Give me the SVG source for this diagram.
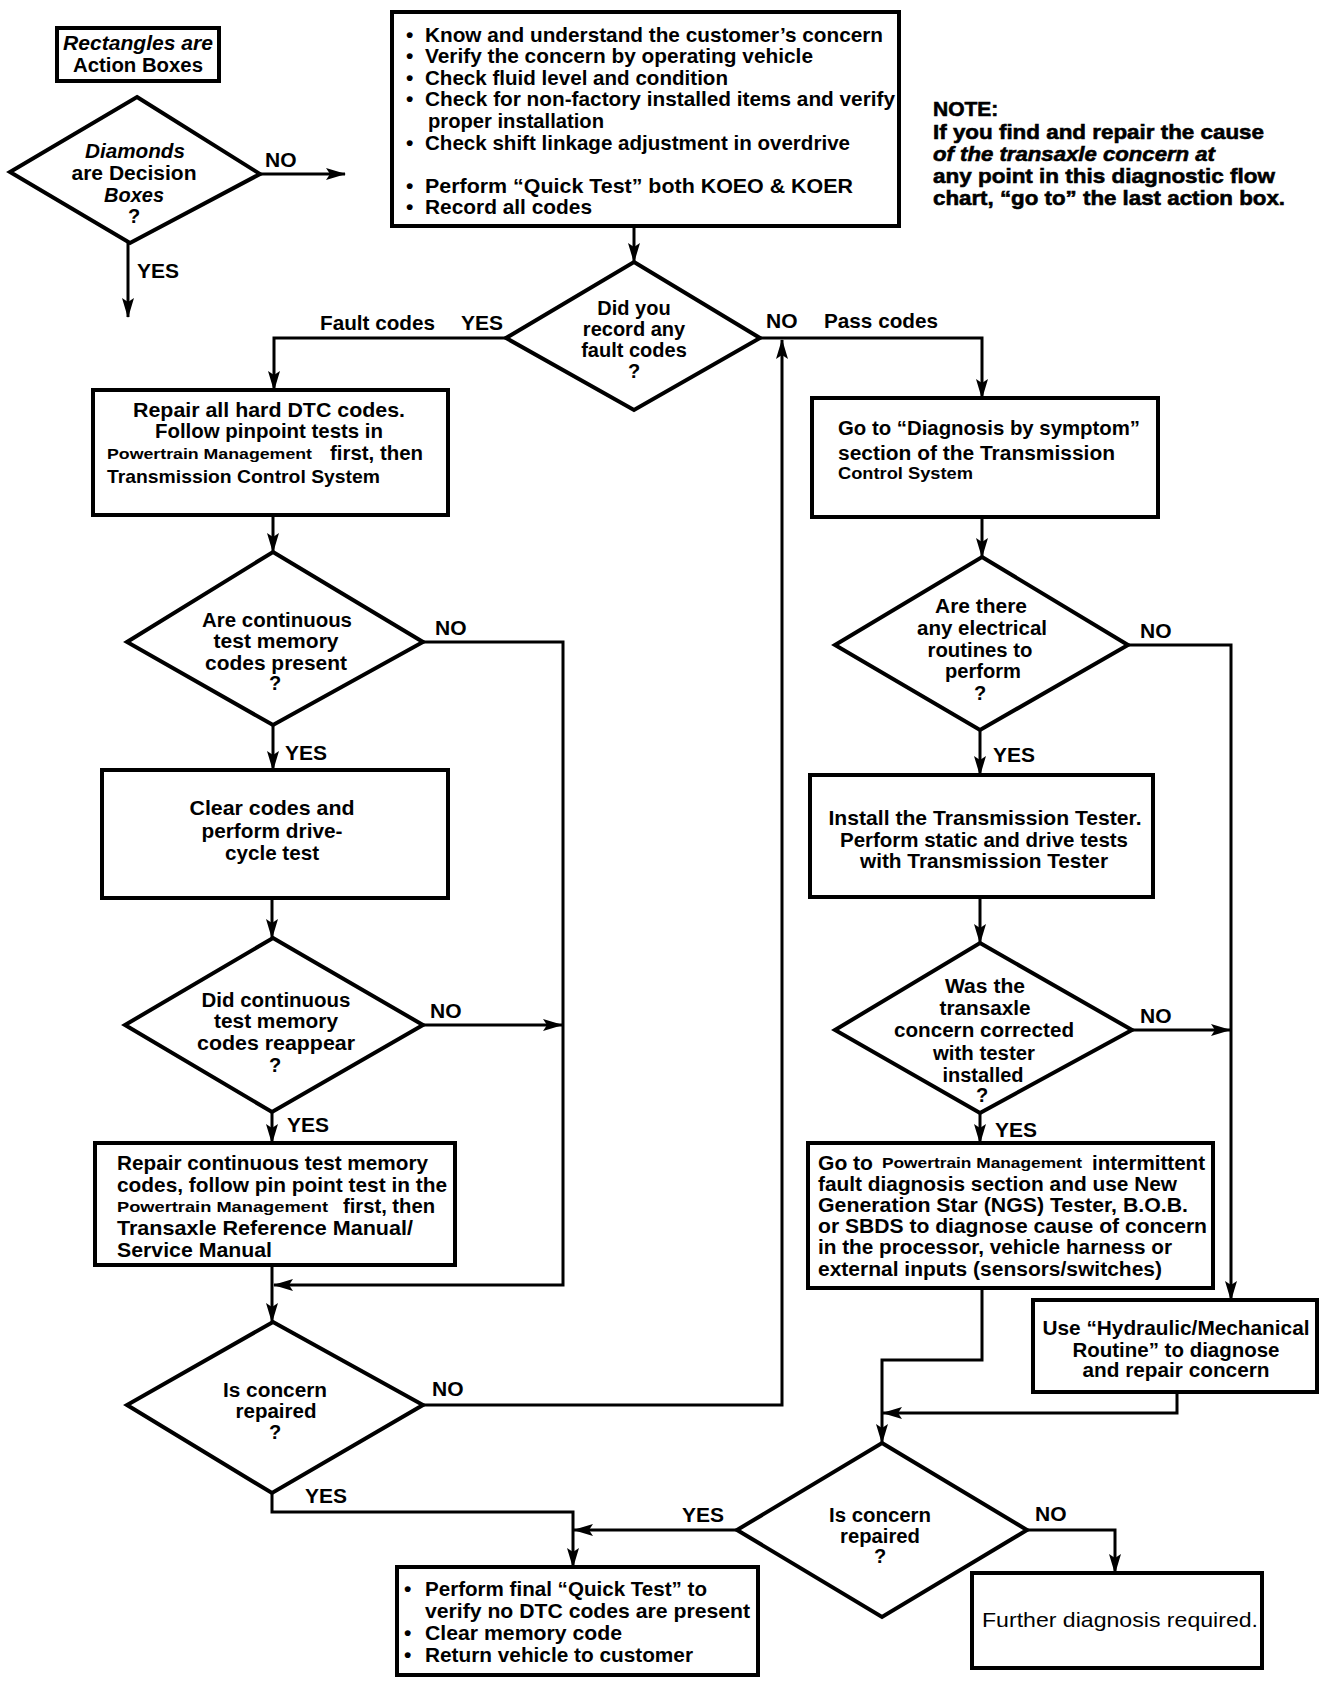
<svg xmlns="http://www.w3.org/2000/svg" width="1344" height="1686" viewBox="0 0 1344 1686">
<style>
.box{fill:#fff;stroke:#000;stroke-width:4}
.dia{fill:#fff;stroke:#000;stroke-width:4;stroke-linejoin:miter}
.conn{fill:none;stroke:#000;stroke-width:3}
.arr{fill:none;stroke:#000;stroke-width:3;marker-end:url(#ah)}
text{font-family:"Liberation Sans",Arial,Helvetica,sans-serif;font-weight:bold;font-size:21px;fill:#000}
.c{text-anchor:middle}
.d{font-size:20px}
.sm{font-size:15px}
.lb{font-size:21px}
.note{font-size:21px;stroke:#000;stroke-width:0.6}
.it{font-style:italic}
.rg{font-weight:normal}
</style>
<defs>
<marker id="ah" markerUnits="userSpaceOnUse" markerWidth="20" markerHeight="12" viewBox="0 0 20 12" refX="19" refY="6" orient="auto">
<path d="M0,0 L20,6 L0,12 L4,6 z" fill="#000"/>
</marker>
</defs>
<rect width="1344" height="1686" fill="#fff"/>

<g id="connectors">
<path class="arr" d="M260,174 H345"/>
<path class="arr" d="M128,243 V317"/>
<path class="arr" d="M634,226 V262"/>
<path class="arr" d="M506,338 H274 V390"/>
<path class="arr" d="M760,338 H982 V398"/>
<path class="arr" d="M273,515 V552"/>
<path class="arr" d="M273,725 V770"/>
<path class="arr" d="M423,642 H563 V1285 H274"/>
<path class="arr" d="M272,898 V938"/>
<path class="arr" d="M423,1025 H562"/>
<path class="arr" d="M272,1112 V1143"/>
<path class="arr" d="M272,1265 V1322"/>
<path class="arr" d="M423,1405 H782 V340"/>
<path class="arr" d="M272,1493 V1512 H573 V1567"/>
<path class="arr" d="M737,1530 H574"/>
<path class="arr" d="M1027,1530 H1115 V1573"/>
<path class="arr" d="M982,517 V557"/>
<path class="arr" d="M980,730 V775"/>
<path class="arr" d="M1128,645 H1231 V1300"/>
<path class="arr" d="M980,897 V943"/>
<path class="arr" d="M1132,1030 H1230"/>
<path class="arr" d="M980,1113 V1143"/>
<path class="arr" d="M982,1288 V1360 H882 V1443"/>
<path class="arr" d="M1177,1392 V1413 H883"/>
</g>

<g id="labels">
<text x="265" y="167" class="lb">NO</text>
<text x="137" y="278" class="lb">YES</text>
<text x="320" y="330" class="lb" textLength="115" lengthAdjust="spacingAndGlyphs">Fault codes</text>
<text x="461" y="330" class="lb">YES</text>
<text x="766" y="328" class="lb">NO</text>
<text x="824" y="328" class="lb" textLength="114" lengthAdjust="spacingAndGlyphs">Pass codes</text>
<text x="435" y="635" class="lb">NO</text>
<text x="285" y="760" class="lb">YES</text>
<text x="430" y="1018" class="lb">NO</text>
<text x="287" y="1132" class="lb">YES</text>
<text x="432" y="1396" class="lb">NO</text>
<text x="305" y="1503" class="lb">YES</text>
<text x="682" y="1522" class="lb">YES</text>
<text x="1035" y="1521" class="lb">NO</text>
<text x="1140" y="638" class="lb">NO</text>
<text x="993" y="762" class="lb">YES</text>
<text x="1140" y="1023" class="lb">NO</text>
<text x="995" y="1137" class="lb">YES</text>
</g>

<g id="legend-rect">
<rect class="box" x="57" y="28" width="162" height="53"/>
<text x="138" y="50" class="c d it" textLength="150" lengthAdjust="spacingAndGlyphs">Rectangles are</text>
<text x="138" y="72" class="c d" textLength="130" lengthAdjust="spacingAndGlyphs">Action Boxes</text>
</g>

<g id="legend-diamond">
<polygon class="dia" points="137,97 260,174 130,243 10,172"/>
<text x="135" y="158" class="c d it" textLength="100" lengthAdjust="spacingAndGlyphs">Diamonds</text>
<text x="134" y="180" class="c d" textLength="125" lengthAdjust="spacingAndGlyphs">are Decision</text>
<text x="134" y="202" class="c d it">Boxes</text>
<text x="134" y="223" class="c d">?</text>
</g>

<g id="start-box">
<rect class="box" x="392" y="12" width="507" height="214"/>
<text x="406" y="42">•</text><text x="425" y="42" textLength="458" lengthAdjust="spacingAndGlyphs">Know and understand the customer’s concern</text>
<text x="406" y="63">•</text><text x="425" y="63" textLength="388" lengthAdjust="spacingAndGlyphs">Verify the concern by operating vehicle</text>
<text x="406" y="85">•</text><text x="425" y="85" textLength="303" lengthAdjust="spacingAndGlyphs">Check fluid level and condition</text>
<text x="406" y="106">•</text><text x="425" y="106" textLength="470" lengthAdjust="spacingAndGlyphs">Check for non-factory installed items and verify</text>
<text x="428" y="128" textLength="176" lengthAdjust="spacingAndGlyphs">proper installation</text>
<text x="406" y="150">•</text><text x="425" y="150" textLength="425" lengthAdjust="spacingAndGlyphs">Check shift linkage adjustment in overdrive</text>
<text x="406" y="193">•</text><text x="425" y="193" textLength="428" lengthAdjust="spacingAndGlyphs">Perform “Quick Test” both KOEO &amp; KOER</text>
<text x="406" y="214">•</text><text x="425" y="214" textLength="167" lengthAdjust="spacingAndGlyphs">Record all codes</text>
</g>

<g id="note">
<text x="933" y="116" class="note">NOTE:</text>
<text x="933" y="139" class="note" textLength="331" lengthAdjust="spacingAndGlyphs">If you find and repair the cause</text>
<text x="933" y="161" class="note it" textLength="282" lengthAdjust="spacingAndGlyphs">of the transaxle concern at</text>
<text x="933" y="183" class="note" textLength="342" lengthAdjust="spacingAndGlyphs">any point in this diagnostic flow</text>
<text x="933" y="205" class="note" textLength="352" lengthAdjust="spacingAndGlyphs">chart, “go to” the last action box.</text>
</g>

<g id="d-record-codes">
<polygon class="dia" points="634,262 760,338 634,410 506,338"/>
<text x="634" y="315" class="c d">Did you</text>
<text x="634" y="336" class="c d">record any</text>
<text x="634" y="357" class="c d">fault codes</text>
<text x="634" y="378" class="c d">?</text>
</g>

<g id="b-repair-hard">
<rect class="box" x="93" y="390" width="355" height="125"/>
<text x="269" y="417" class="c" textLength="272" lengthAdjust="spacingAndGlyphs">Repair all hard DTC codes.</text>
<text x="269" y="438" class="c" textLength="228" lengthAdjust="spacingAndGlyphs">Follow pinpoint tests in</text>
<text x="107" y="459" class="sm" textLength="205" lengthAdjust="spacingAndGlyphs">Powertrain  Management</text>
<text x="330" y="460" textLength="93" lengthAdjust="spacingAndGlyphs">first, then</text>
<text x="107" y="483" style="font-size:19px" textLength="273" lengthAdjust="spacingAndGlyphs">Transmission Control System</text>
</g>

<g id="d-continuous">
<polygon class="dia" points="273,552 423,642 273,725 127,642"/>
<text x="277" y="627" class="c d" textLength="150" lengthAdjust="spacingAndGlyphs">Are continuous</text>
<text x="276" y="648" class="c d" textLength="125" lengthAdjust="spacingAndGlyphs">test memory</text>
<text x="276" y="670" class="c d" textLength="142" lengthAdjust="spacingAndGlyphs">codes present</text>
<text x="275" y="690" class="c d">?</text>
</g>

<g id="b-clear-codes">
<rect class="box" x="102" y="770" width="346" height="128"/>
<text x="272" y="815" class="c" textLength="165" lengthAdjust="spacingAndGlyphs">Clear codes and</text>
<text x="272" y="838" class="c" textLength="141" lengthAdjust="spacingAndGlyphs">perform drive-</text>
<text x="272" y="860" class="c" textLength="94" lengthAdjust="spacingAndGlyphs">cycle test</text>
</g>

<g id="d-reappear">
<polygon class="dia" points="273,938 423,1025 272,1112 125,1025"/>
<text x="276" y="1007" class="c d" textLength="149" lengthAdjust="spacingAndGlyphs">Did continuous</text>
<text x="276" y="1028" class="c d" textLength="124" lengthAdjust="spacingAndGlyphs">test memory</text>
<text x="276" y="1050" class="c d" textLength="158" lengthAdjust="spacingAndGlyphs">codes reappear</text>
<text x="275" y="1072" class="c d">?</text>
</g>

<g id="b-repair-continuous">
<rect class="box" x="95" y="1143" width="360" height="122"/>
<text x="117" y="1170" textLength="311" lengthAdjust="spacingAndGlyphs">Repair continuous test memory</text>
<text x="117" y="1192" textLength="330" lengthAdjust="spacingAndGlyphs">codes, follow pin point test  in the</text>
<text x="117" y="1212" class="sm" textLength="211" lengthAdjust="spacingAndGlyphs">Powertrain  Management</text>
<text x="343" y="1213" textLength="92" lengthAdjust="spacingAndGlyphs">first, then</text>
<text x="117" y="1235" textLength="296" lengthAdjust="spacingAndGlyphs">Transaxle Reference Manual/</text>
<text x="117" y="1257" textLength="155" lengthAdjust="spacingAndGlyphs">Service Manual</text>
</g>

<g id="d-repaired-left">
<polygon class="dia" points="273,1322 423,1405 272,1493 127,1405"/>
<text x="275" y="1397" class="c d" textLength="104" lengthAdjust="spacingAndGlyphs">Is concern</text>
<text x="276" y="1418" class="c d" textLength="81" lengthAdjust="spacingAndGlyphs">repaired</text>
<text x="275" y="1439" class="c d">?</text>
</g>

<g id="b-diagnosis-symptom">
<rect class="box" x="812" y="398" width="346" height="119"/>
<text x="838" y="435" textLength="302" lengthAdjust="spacingAndGlyphs">Go to “Diagnosis by symptom”</text>
<text x="838" y="460" style="font-size:20px" textLength="277" lengthAdjust="spacingAndGlyphs">section of the Transmission</text>
<text x="838" y="479" style="font-size:16px" textLength="135" lengthAdjust="spacingAndGlyphs">Control System</text>
</g>

<g id="d-electrical">
<polygon class="dia" points="982,557 1128,645 980,730 835,645"/>
<text x="981" y="613" class="c d" textLength="92" lengthAdjust="spacingAndGlyphs">Are there</text>
<text x="982" y="635" class="c d" textLength="130" lengthAdjust="spacingAndGlyphs">any electrical</text>
<text x="980" y="657" class="c d" textLength="105" lengthAdjust="spacingAndGlyphs">routines to</text>
<text x="983" y="678" class="c d" textLength="76" lengthAdjust="spacingAndGlyphs">perform</text>
<text x="980" y="700" class="c d">?</text>
</g>

<g id="b-install-tester">
<rect class="box" x="810" y="775" width="343" height="122"/>
<text x="985" y="825" class="c" textLength="313" lengthAdjust="spacingAndGlyphs">Install the Transmission Tester.</text>
<text x="984" y="847" class="c" textLength="288" lengthAdjust="spacingAndGlyphs">Perform static and drive tests</text>
<text x="984" y="868" class="c" textLength="248" lengthAdjust="spacingAndGlyphs">with Transmission Tester</text>
</g>

<g id="d-corrected">
<polygon class="dia" points="980,943 1132,1030 980,1113 835,1030"/>
<text x="985" y="993" class="c d" textLength="80" lengthAdjust="spacingAndGlyphs">Was the</text>
<text x="985" y="1015" class="c d" textLength="91" lengthAdjust="spacingAndGlyphs">transaxle</text>
<text x="984" y="1037" class="c d" textLength="180" lengthAdjust="spacingAndGlyphs">concern corrected</text>
<text x="984" y="1060" class="c d" textLength="102" lengthAdjust="spacingAndGlyphs">with tester</text>
<text x="983" y="1082" class="c d" textLength="81" lengthAdjust="spacingAndGlyphs">installed</text>
<text x="982" y="1102" class="c d">?</text>
</g>

<g id="b-intermittent">
<rect class="box" x="808" y="1143" width="405" height="145"/>
<text x="818" y="1170" style="font-size:20px" textLength="55" lengthAdjust="spacingAndGlyphs">Go to</text>
<text x="882" y="1168" class="sm" textLength="200" lengthAdjust="spacingAndGlyphs">Powertrain Management</text>
<text x="1092" y="1170" style="font-size:20px" textLength="113" lengthAdjust="spacingAndGlyphs">intermittent</text>
<text x="818" y="1191" style="font-size:20px" textLength="359" lengthAdjust="spacingAndGlyphs">fault diagnosis section and use New</text>
<text x="818" y="1212" style="font-size:20px" textLength="370" lengthAdjust="spacingAndGlyphs">Generation Star (NGS) Tester, B.O.B.</text>
<text x="818" y="1233" style="font-size:20px" textLength="389" lengthAdjust="spacingAndGlyphs">or SBDS to diagnose cause of concern</text>
<text x="818" y="1254" style="font-size:20px" textLength="354" lengthAdjust="spacingAndGlyphs">in the processor, vehicle harness or</text>
<text x="818" y="1276" style="font-size:20px" textLength="344" lengthAdjust="spacingAndGlyphs">external inputs (sensors/switches)</text>
</g>

<g id="b-hydraulic">
<rect class="box" x="1033" y="1300" width="284" height="92"/>
<text x="1176" y="1335" class="c" textLength="267" lengthAdjust="spacingAndGlyphs">Use “Hydraulic/Mechanical</text>
<text x="1176" y="1357" class="c" textLength="207" lengthAdjust="spacingAndGlyphs">Routine” to diagnose</text>
<text x="1176" y="1377" class="c" textLength="187" lengthAdjust="spacingAndGlyphs">and repair concern</text>
</g>

<g id="d-repaired-right">
<polygon class="dia" points="882,1443 1027,1530 882,1617 737,1530"/>
<text x="880" y="1522" class="c d" textLength="102" lengthAdjust="spacingAndGlyphs">Is concern</text>
<text x="880" y="1543" class="c d" textLength="80" lengthAdjust="spacingAndGlyphs">repaired</text>
<text x="880" y="1563" class="c d">?</text>
</g>

<g id="b-final">
<rect class="box" x="397" y="1567" width="361" height="108"/>
<text x="404" y="1596">•</text><text x="425" y="1596" textLength="282" lengthAdjust="spacingAndGlyphs">Perform final “Quick Test” to</text>
<text x="425" y="1618" textLength="325" lengthAdjust="spacingAndGlyphs">verify no DTC codes are present</text>
<text x="404" y="1640">•</text><text x="425" y="1640" textLength="197" lengthAdjust="spacingAndGlyphs">Clear memory code</text>
<text x="404" y="1662">•</text><text x="425" y="1662" textLength="268" lengthAdjust="spacingAndGlyphs">Return vehicle to customer</text>
</g>

<g id="b-further">
<rect class="box" x="972" y="1573" width="290" height="95"/>
<text x="982" y="1627" class="rg" textLength="276" lengthAdjust="spacingAndGlyphs">Further diagnosis required.</text>
</g>
</svg>
